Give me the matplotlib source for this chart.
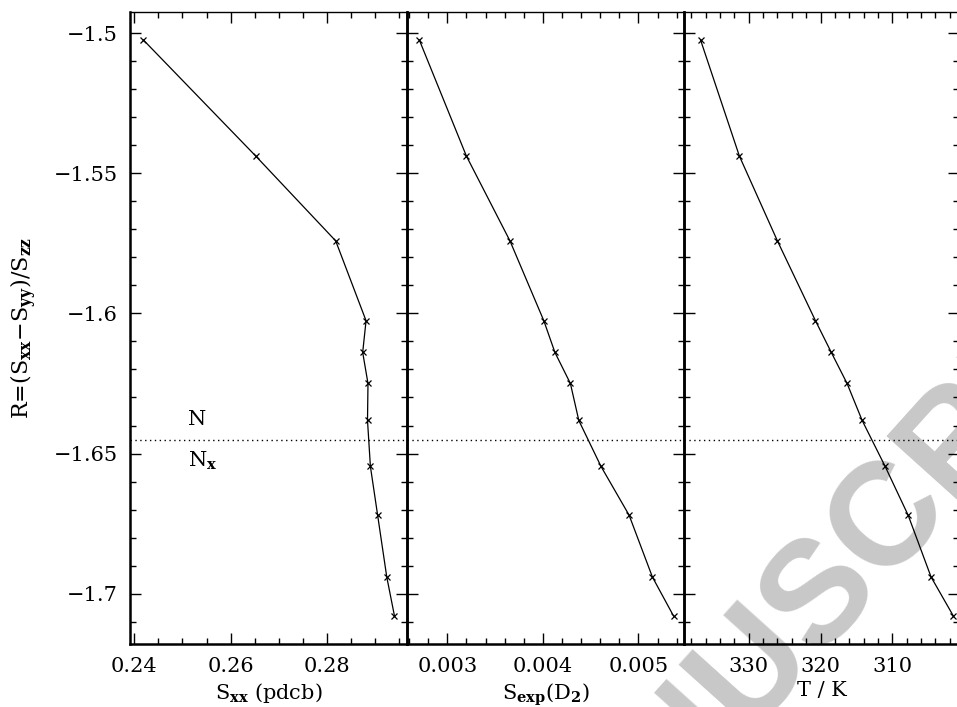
import numpy as np
import matplotlib as mpl
mpl.use('Agg')
from matplotlib import pyplot as plt
from matplotlib.ticker import MultipleLocator, FuncFormatter

### fonts ###
fsize = 15
mpl.rc('font', family='DejaVu Serif', size=fsize)
mpl.rc('mathtext', fontset='dejavuserif')

### data: order parameter ratio vs. S_xx, S_exp(D2) and temperature ###
R = [-1.5024, -1.5438, -1.5741, -1.6026, -1.6139, -1.6250,
     -1.6382, -1.6546, -1.6720, -1.6941, -1.7080]
sxx = [0.2419, 0.2652, 0.2818, 0.2881, 0.2874, 0.2885,
       0.2884, 0.2890, 0.2905, 0.2924, 0.2940]
sexp = [0.002708, 0.003200, 0.003656, 0.004010, 0.004126, 0.004288,
        0.004376, 0.004608, 0.004902, 0.005146, 0.005367]
temp = [336.7, 331.3, 326.0, 320.7, 318.5, 316.3,
        314.2, 311.0, 307.8, 304.6, 301.5]
R_transition = -1.6452   # N / N_x boundary

fig = plt.figure(figsize=(9.57, 7.07), dpi=100)

# watermark behind the data
fig.text(0.857, 0.163, 'MANUSCRIPT', rotation=48, color='#c8c8c8',
         fontsize=105, fontweight='bold', family='Liberation Sans',
         ha='center', va='center', rotation_mode='anchor', zorder=-1)

bottom, height = 0.0891, 0.8939
rects = [(0.1358, bottom, 0.2895, height),
         (0.4253, bottom, 0.2895, height),
         (0.7148, bottom, 0.2874, height)]
axes = [fig.add_axes(r) for r in rects]

def fmt(v, pos):
    return f'{v:g}'.replace('-', '\u2212')

xs = [sxx, sexp, temp]
xlims = [(0.2391, 0.2966), (0.002579, 0.005477), (339.0, 300.7)]
majors = [0.02, 0.001, 10]
minors = [0.005, 0.0002, 2]
xlabels = [r'$\mathrm{S}_{\mathbf{xx}}$ (pdcb)',
           r'$\mathrm{S}_{\mathbf{exp}}\mathrm{(D}_{\mathbf{2}}\mathrm{)}$',
           'T / K']

for i, ax in enumerate(axes):
    ax.set_facecolor('none')
    ax.plot(xs[i], R, color='k', lw=0.9, marker='x', ms=5, mew=0.9)
    ax.axhline(R_transition, color='k', lw=1.0, ls=(0, (1, 2.5)))
    ax.set_xlim(*xlims[i])
    ax.set_ylim(-1.718, -1.4924)
    ax.xaxis.set_major_locator(MultipleLocator(majors[i]))
    ax.xaxis.set_minor_locator(MultipleLocator(minors[i]))
    ax.yaxis.set_major_locator(MultipleLocator(0.05))
    ax.yaxis.set_minor_locator(MultipleLocator(0.01))
    ax.xaxis.set_major_formatter(FuncFormatter(fmt))
    ax.yaxis.set_major_formatter(FuncFormatter(fmt))
    ax.tick_params(which='both', direction='in', top=True, right=True,
                   width=1.0, color='k')
    ax.tick_params(which='major', length=8, pad=9)
    ax.tick_params(which='minor', length=4)
    if i > 0:
        ax.tick_params(labelleft=False)
    for side in ['left', 'right', 'bottom']:
        ax.spines[side].set_linewidth(1.8)
    ax.spines['top'].set_linewidth(1.0)
    ax.set_xlabel(xlabels[i], labelpad=4)

axes[0].set_ylabel(r'R=(S$_{\mathbf{xx}}$$-$S$_{\mathbf{yy}}$)/S$_{\mathbf{zz}}$',
                   fontsize=16, labelpad=10)
axes[0].text(0.2511, -1.6378, 'N', ha='left', va='center')
axes[0].text(0.2511, -1.6525, r'N$_{\mathbf{x}}$', ha='left', va='center')

plt.savefig('out.png', dpi=100)
